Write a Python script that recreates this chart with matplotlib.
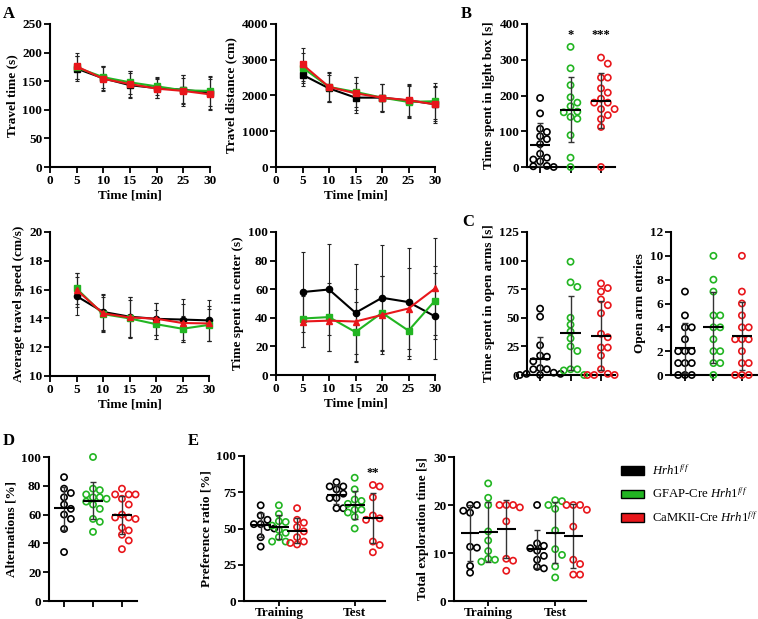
import matplotlib.pyplot as plt
import numpy as np
from matplotlib.patches import Patch

plt.rcParams['font.family'] = ['Liberation Serif', 'DejaVu Serif']
plt.rcParams['font.weight'] = 'bold'
plt.rcParams['axes.labelweight'] = 'bold'
plt.rcParams['mathtext.fontset'] = 'custom'
plt.rcParams['mathtext.rm'] = 'Liberation Serif:normal'
plt.rcParams['mathtext.it'] = 'Liberation Serif:italic:normal'
plt.rcParams['mathtext.bf'] = 'Liberation Serif:bold'
plt.rcParams['font.size'] = 9.5

BLACK = 'black'
GREEN = '#22b522'
RED = '#e8161b'
COLS = [BLACK, GREEN, RED]

# ---- A: open field, cada 5 min ----
t_min = [5, 10, 15, 20, 25, 30]

travel_time = {'black': [172, 155, 143, 138, 135, 130],
               'green': [174, 157, 148, 141, 134, 133],
               'red':   [176, 154, 145, 137, 133, 127]}
travel_time_sd = {'black': [22, 20, 22, 18, 25, 28],
                  'green': [20, 19, 20, 16, 22, 26],
                  'red':   [23, 22, 22, 17, 27, 27]}

travel_dist = {'black': [2580, 2200, 1940, 1940, 1860, 1760],
               'green': [2780, 2240, 2100, 1940, 1820, 1840],
               'red':   [2870, 2240, 2060, 1940, 1870, 1750]}
travel_dist_sd = {'black': [320, 380, 420, 380, 430, 480],
                  'green': [420, 400, 430, 370, 450, 500],
                  'red':   [470, 420, 470, 390, 460, 520]}

speed = {'black': [15.55, 14.45, 14.12, 13.97, 13.92, 13.86],
         'green': [16.08, 14.3, 14.0, 13.6, 13.28, 13.55],
         'red':   [15.98, 14.35, 14.07, 13.98, 13.68, 13.65]}
speed_sd = {'black': [1.3, 1.25, 1.4, 1.1, 1.4, 1.4],
            'green': [1.1, 1.2, 1.3, 1.0, 0.9, 1.1],
            'red':   [1.2, 1.3, 1.4, 1.1, 1.3, 1.2]}

center = {'black': [58, 59.8, 43.5, 54, 51, 41],
          'green': [39.5, 40.5, 30, 43.5, 31, 52],
          'red':   [37.4, 38, 37.4, 42, 46.5, 60.5]}
center_sd = {'black': [28, 32, 34, 37, 38, 30],
             'green': [20, 24, 21, 26, 20, 24],
             'red':   [18, 21, 23, 27, 28, 35]}

# ---- B: light/dark box ----
light_box = [[193, 150, 107, 98, 86, 78, 64, 37, 26, 21, 16, 3, 2, 0],
             [336, 276, 229, 195, 180, 170, 155, 153, 140, 135, 89, 26, 0],
             [306, 289, 250, 250, 220, 208, 191, 180, 180, 162, 162, 145, 134, 112, 0]]

# ---- C: elevated plus maze ----
open_arms_time = [[58, 51, 26, 17, 16, 12, 6, 5, 5, 2, 1, 1, 0, 0],
                  [99, 81, 77, 50, 44, 38, 32, 25, 21, 5, 5, 4, 0],
                  [80, 76, 73, 66, 61, 54, 36, 33, 24, 24, 17, 5, 1, 0, 0, 0]]
open_arm_entries = [[7, 5, 4, 4, 3, 2, 2, 2, 1, 1, 1, 0, 0, 0],
                    [10, 8, 7, 5, 5, 4, 4, 3, 2, 2, 1, 1, 0],
                    [10, 7, 6, 5, 4, 4, 3, 3, 3, 2, 1, 1, 0, 0, 0]]

# ---- D: Y maze ----
alternations = [[86, 78, 75, 72, 67, 64, 60, 57, 50, 34],
                [100, 78, 77, 74, 72, 71, 72, 69, 67, 64, 57, 55, 48],
                [78, 74, 74, 74, 71, 67, 60, 58, 58, 57, 51, 49, 46, 42, 36]]

# ---- E: novel object recognition ----
phases = ['Training', 'Test']
pref_training = [[66, 59, 56, 53, 53, 51, 50, 44, 37.5],
                 [66, 60, 55, 54.5, 52, 49, 47, 44, 41, 41],
                 [64, 56, 54, 51, 48, 44, 41, 40, 39]]
pref_test = [[82, 79, 79, 77, 74, 71, 71, 64, 64],
             [85, 77, 70, 69, 67, 63, 63, 61, 58, 50],
             [80, 79, 71.5, 59, 57, 56, 41, 38.6, 33.6]]
explo_training = [[20, 20, 18.8, 18.4, 11.3, 11.1, 7.3, 5.9],
                  [24.5, 21.5, 20, 14.5, 12.6, 10.4, 8.8, 8.6, 8.2],
                  [20, 20, 20, 19.5, 16.6, 8.8, 8.4, 6.3]]
explo_test = [[20, 12, 11.5, 11, 10.5, 9.4, 8.6, 7.1, 6.8],
              [21, 20.8, 20, 19.2, 14.7, 10.8, 9.6, 7.2, 4.9],
              [20, 20, 20, 19, 15.5, 8.6, 7.7, 5.5, 5.5]]

legend_labels = [r'$\mathit{Hrh1}^{f/f}$',
                 r'GFAP-Cre $\mathit{Hrh1}^{f/f}$',
                 r'CaMKII-Cre $\mathit{Hrh1}^{f/f}$']

W, H = 758, 619
fig = plt.figure(figsize=(W / 100, H / 100), dpi=100)


def add_ax(x0, y0, x1, y1):
    # caja en pixeles de la imagen original
    ax = fig.add_axes([x0 / W, 1 - y1 / H, (x1 - x0) / W, (y1 - y0) / H])
    for s in ['top', 'right']:
        ax.spines[s].set_visible(False)
    for s in ['left', 'bottom']:
        ax.spines[s].set_linewidth(1.5)
    ax.tick_params(width=1.3, length=4, labelsize=9.5, pad=1.5)
    return ax


def line_panel(ax, data, sd, ylim, ystep, ylabel, markers):
    for key in ['black', 'green', 'red']:
        ax.errorbar(t_min, data[key], yerr=sd[key], fmt='none', ecolor='#222',
                    elinewidth=0.8, capsize=1.5, capthick=0.8, clip_on=False, zorder=2)
    for key, col, mk in zip(['black', 'green', 'red'], COLS, markers):
        ax.plot(t_min, data[key], color=col, marker=mk, ms=4.5, lw=1.5,
                clip_on=False, zorder=3)
    ax.set_xlim(0, 30)
    ax.set_xticks(range(0, 31, 5))
    ax.set_ylim(*ylim)
    ax.set_yticks(np.arange(ylim[0], ylim[1] + 0.1, ystep))
    ax.set_xlabel('Time [min]', fontsize=9.5, labelpad=2)
    ax.set_ylabel(ylabel, fontsize=9.5, labelpad=3)


def swarm_x(ax, xc, vals, diam=6.8):
    # reparto horizontal tipo Prism, en pixeles
    tr = ax.transData
    px0 = tr.transform((xc, 0))[0]
    placed = []
    xs = np.zeros(len(vals))
    for i in np.argsort(-np.asarray(vals)):
        py = tr.transform((xc, vals[i]))[1]
        for k in [0, 1, -1, 2, -2, 3, -3, 4, -4, 5, -5]:
            cand = px0 + k * diam
            if all((cand - qx) ** 2 + (py - qy) ** 2 >= (diam * 0.95) ** 2 for qx, qy in placed):
                break
        placed.append((cand, py))
        xs[i] = tr.inverted().transform((cand, py))[0]
    return xs


def dot_panel(ax, positions, groups, half):
    for xc, vals, col in zip(positions, groups, COLS):
        vals = np.asarray(vals, float)
        xs = swarm_x(ax, xc, vals)
        ax.scatter(xs, vals, s=20, facecolors='none', edgecolors=col,
                   linewidths=1.2, clip_on=False, zorder=3)
        m, sd = vals.mean(), vals.std(ddof=1)
        ax.errorbar(xc, m, yerr=sd, fmt='none', ecolor='#333', elinewidth=1,
                    capsize=2, capthick=1, zorder=4)
        ax.hlines(m, xc - half, xc + half, color='black', lw=1.5, zorder=5)


def cat_axes(ax, ylim, ystep, ylabel, xlim):
    ax.set_xlim(*xlim)
    ax.set_ylim(*ylim)
    ax.set_yticks(np.arange(ylim[0], ylim[1] + 0.1, ystep))
    ax.set_xticks([0, 1, 2])
    ax.set_xticklabels([])
    ax.set_ylabel(ylabel, fontsize=9.5, labelpad=3)


# A
ax = add_ax(50, 24, 210, 167)
line_panel(ax, travel_time, travel_time_sd, (0, 250), 50, 'Travel time (s)', ['s', 's', 's'])
ax = add_ax(276, 24, 435, 167)
line_panel(ax, travel_dist, travel_dist_sd, (0, 4000), 1000, 'Travel distance (cm)', ['s', 's', 's'])
ax = add_ax(50, 232, 209, 376)
line_panel(ax, speed, speed_sd, (10, 20), 2, 'Average travel speed (cm/s)', ['o', 's', '^'])
ax = add_ax(276, 232, 435, 375)
line_panel(ax, center, center_sd, (0, 100), 20, 'Time spent in center (s)', ['o', 's', '^'])

# B
ax = add_ax(527, 24, 615, 167)
cat_axes(ax, (0, 400), 100, 'Time spent in light box [s]', (-0.43, 2.46))
dot_panel(ax, [0, 1, 2], light_box, 0.33)
ax.text(1, 370, '*', ha='center', va='center', fontsize=9)
ax.text(2, 370, '***', ha='center', va='center', fontsize=9)

# C
ax = add_ax(527, 232, 615, 375)
cat_axes(ax, (0, 125), 25, 'Time spent in open arms [s]', (-0.43, 2.46))
dot_panel(ax, [0, 1, 2], open_arms_time, 0.33)
ax = add_ax(671, 232, 757, 375)
cat_axes(ax, (0, 12), 2, 'Open arm entries', (-0.49, 2.53))
dot_panel(ax, [0, 1, 2], open_arm_entries, 0.35)

# D
ax = add_ax(49, 457, 137, 601)
cat_axes(ax, (0, 100), 20, 'Alternations [%]', (-0.52, 2.52))
dot_panel(ax, [0, 1, 2], alternations, 0.34)

# E
ax = add_ax(244, 456, 385, 601)
ax.set_xlim(-0.46, 1.4)
ax.set_ylim(0, 100)
ax.set_yticks([0, 25, 50, 75, 100])
ax.set_xticks([0, 1])
ax.set_xticklabels(phases)
ax.tick_params(axis='x', pad=0.5, length=3.5)
ax.set_ylabel('Preference ratio [%]', fontsize=9.5, labelpad=3)
dot_panel(ax, [-0.24, 0, 0.24], pref_training, 0.13)
dot_panel(ax, [0.76, 1, 1.24], pref_test, 0.13)
ax.text(1.24, 88.5, '**', ha='center', va='center', fontsize=9)

ax = add_ax(454, 457, 586, 601)
ax.set_xlim(-0.51, 1.46)
ax.set_ylim(0, 30)
ax.set_yticks([0, 10, 20, 30])
ax.set_xticks([0, 1])
ax.set_xticklabels(phases)
ax.tick_params(axis='x', pad=0.5, length=3.5)
ax.set_ylabel('Total exploration time [s]', fontsize=9.5, labelpad=3)
dot_panel(ax, [-0.27, 0, 0.27], explo_training, 0.14)
dot_panel(ax, [0.73, 1, 1.27], explo_test, 0.14)

# letras de panel
for lab, x, y in [('A', 3, 14), ('B', 461, 14), ('C', 462, 222), ('D', 3, 441), ('E', 188, 441)]:
    fig.text(x / W, 1 - y / H, lab, fontsize=12, fontweight='bold', va='center')

handles = [Patch(facecolor=c, edgecolor='black', linewidth=1) for c in COLS]
fig.legend(handles, legend_labels, loc='upper left', bbox_to_anchor=(609 / W, 1 - 452 / H),
           frameon=False, handlelength=1.8, handleheight=0.7, labelspacing=0.7,
           handletextpad=0.7, prop={'weight': 'normal', 'size': 9.2})

fig.savefig('out.png', dpi=100)
